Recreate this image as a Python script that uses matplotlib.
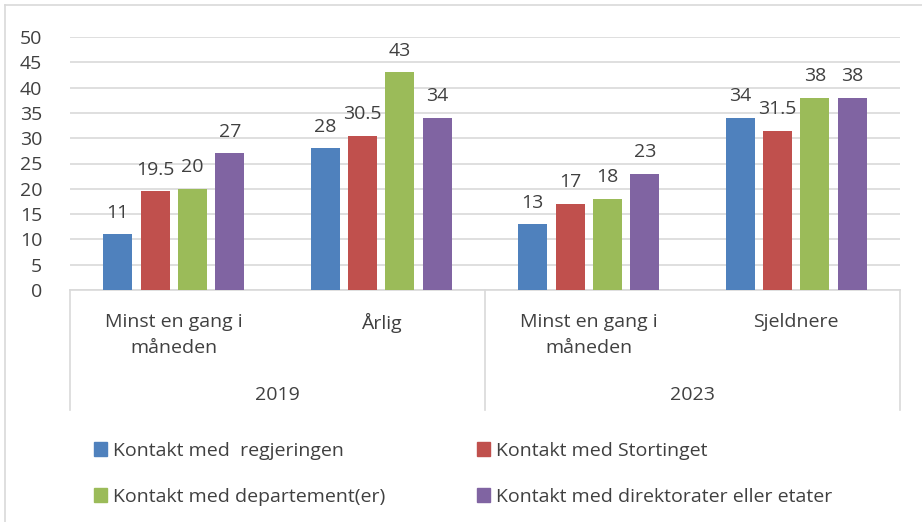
import matplotlib.pyplot as plt
import numpy as np
from matplotlib.patches import Patch

plt.rcParams['font.family'] = ['Open Sans', 'DejaVu Sans']

years = ['2019', '2023']
categories = ['Minst en gang i\nmåneden', 'Årlig', 'Minst en gang i\nmåneden', 'Sjeldnere']
series_names = ['Kontakt med  regjeringen', 'Kontakt med Stortinget',
                'Kontakt med departement(er)', 'Kontakt med direktorater eller etater']
regjeringen = [11, 28, 13, 34]
stortinget = [19.5, 30.5, 17, 31.5]
departement = [20, 43, 18, 38]
direktorater = [27, 34, 23, 38]
colors = ['#4f81bd', '#c0504d', '#9bbb59', '#8064a2']

txt = '#404040'
grid = '#d9d9d9'
fs = 14

fig = plt.figure(figsize=(9.22, 5.22), dpi=100)
ax = fig.add_axes([70 / 922, 1 - 290 / 522, 830 / 922, 253 / 522])

x = np.arange(len(categories))
width = 0.14
step = 0.18
for i, (vals, c) in enumerate(zip([regjeringen, stortinget, departement, direktorater], colors)):
    pos = x + (i - 1.5) * step
    bars = ax.bar(pos, vals, width, color=c, label=series_names[i], zorder=3)
    for b, v in zip(bars, vals):
        ax.annotate('%g' % v, (b.get_x() + b.get_width() / 2, v), xytext=(0, 9),
                    textcoords='offset points', ha='center', va='bottom',
                    fontsize=fs, color=txt)

ax.set_xlim(-0.5, len(categories) - 0.5)
ax.set_ylim(0, 50)
ax.set_yticks(range(0, 51, 5))
ax.tick_params(axis='y', length=0, labelsize=fs, labelcolor=txt, pad=20)
ax.set_xticks([])
ax.yaxis.grid(True, color=grid, linewidth=1.2, zorder=0)
for s in ['top', 'right', 'left']:
    ax.spines[s].set_visible(False)
ax.spines['bottom'].set_color(grid)
ax.spines['bottom'].set_linewidth(1.2)

# two-level category axis
trans = ax.get_xaxis_transform()
for xv in [-0.5, 1.5, 3.5]:
    ax.plot([xv, xv], [0, -120 / 253], transform=trans, color=grid, lw=1.2, clip_on=False)
for xi, cat in zip(x, categories):
    ax.text(xi, -23 / 253, cat, transform=trans, ha='center', va='top',
            fontsize=fs, color=txt, linespacing=1.6)
for k, yr in enumerate(years):
    ax.text(2 * k + 0.5, -105 / 253, yr, transform=trans, ha='center', va='center',
            fontsize=fs, color=txt)

# chart border
fig.add_artist(plt.Line2D([5 / 922, 5 / 922], [0, 1 - 5 / 522], color=grid, lw=1.2))
fig.add_artist(plt.Line2D([5 / 922, 1], [1 - 5 / 522, 1 - 5 / 522], color=grid, lw=1.2))

# legend filled row by row like the original
order = [0, 2, 1, 3]
handles = [Patch(color=colors[i]) for i in order]
labels = [series_names[i] for i in order]
fig.legend(handles, labels, ncol=2, loc='upper left',
           bbox_to_anchor=(76 / 922, 1 - 424 / 522), frameon=False,
           fontsize=fs, labelcolor=txt, handlelength=0.7, handleheight=0.7,
           handletextpad=0.3, columnspacing=4.7, labelspacing=1.45)

fig.savefig('out.png', dpi=100)
